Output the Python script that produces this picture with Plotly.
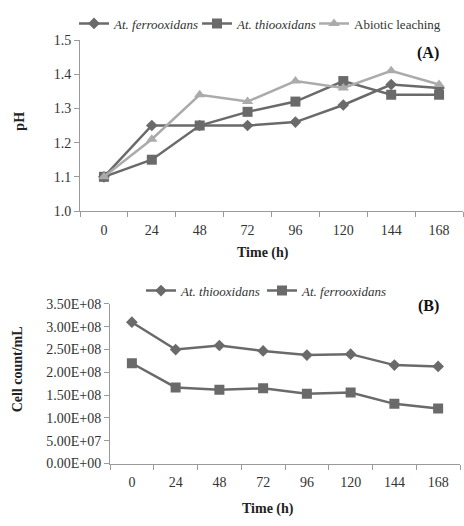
import plotly.graph_objects as go

time_labels = ["0", "24", "48", "72", "96", "120", "144", "168"]

# Panel A: pH
ph_ferro = [1.10, 1.25, 1.25, 1.25, 1.26, 1.31, 1.37, 1.36]
ph_thio = [1.10, 1.15, 1.25, 1.29, 1.32, 1.38, 1.34, 1.34]
ph_abiotic = [1.10, 1.21, 1.34, 1.32, 1.38, 1.36, 1.41, 1.37]
ph_ticks = [1.0, 1.1, 1.2, 1.3, 1.4, 1.5]
ph_ticktext = ["1.0", "1.1", "1.2", "1.3", "1.4", "1.5"]

# Panel B: Cell count/mL
cc_thio = [3.10e8, 2.50e8, 2.59e8, 2.47e8, 2.38e8, 2.40e8, 2.16e8, 2.13e8]
cc_ferro = [2.20e8, 1.67e8, 1.62e8, 1.65e8, 1.53e8, 1.56e8, 1.31e8, 1.21e8]
cc_ticks = [0, 5e7, 1e8, 1.5e8, 2e8, 2.5e8, 3e8, 3.5e8]
cc_ticktext = ["0.00E+00", "5.00E+07", "1.00E+08", "1.50E+08", "2.00E+08",
               "2.50E+08", "3.00E+08", "3.50E+08"]

DARK = "#6a6a6a"
LIGHT = "#ababab"
AXIS = "#9a9a9a"
FONT = "Liberation Serif"
W, H = 464, 526

def px(x):
    return x / W

def py(y):
    return 1 - y / H

fig = go.Figure()

def add(x, y, name, color, symbol, size, xa, ya, leg):
    fig.add_trace(go.Scatter(x=x, y=y, name=name, mode="lines+markers",
                             line=dict(color=color, width=2.5),
                             marker=dict(symbol=symbol, size=size, color=color),
                             xaxis=xa, yaxis=ya, legend=leg, showlegend=True))

add(time_labels, ph_ferro, "<i>At. ferrooxidans</i>", DARK, "diamond", 9, "x", "y", "legend")
add(time_labels, ph_thio, "<i>At. thiooxidans</i>", DARK, "square", 10, "x", "y", "legend2")
add(time_labels, ph_abiotic, "Abiotic leaching", LIGHT, "triangle-up", 10, "x", "y", "legend3")
add(time_labels, cc_thio, "<i>At. thiooxidans</i>", DARK, "diamond", 9, "x2", "y2", "legend4")
add(time_labels, cc_ferro, "<i>At. ferrooxidans</i>", DARK, "square", 10, "x2", "y2", "legend5")

xcommon = dict(type="category", tickson="boundaries", ticks="outside", ticklen=5,
               tickcolor=AXIS, showline=True, linecolor=AXIS, linewidth=1,
               showgrid=False, zeroline=False, range=[-0.5, 7.5], ticklabelstandoff=6,
               tickfont=dict(family=FONT, size=14, color="#333"))
ycommon = dict(ticks="outside", ticklen=5, tickcolor=AXIS, showline=True,
               linecolor=AXIS, linewidth=1, showgrid=False, zeroline=False,
               tickfont=dict(family=FONT, size=14, color="#333"))

def leg(xp, yp):
    return dict(orientation="h", x=px(xp), y=py(yp), xanchor="left", yanchor="middle",
                font=dict(family=FONT, size=13, color="#333"), itemwidth=30,
                bgcolor="rgba(0,0,0,0)", visible=True)

fig.update_layout(
    width=W, height=H, margin=dict(l=0, r=0, t=0, b=0),
    paper_bgcolor="white", plot_bgcolor="white", showlegend=True,
    font=dict(family=FONT, color="#333"),
    xaxis=dict(domain=[px(80), px(463)], anchor="y", **xcommon),
    yaxis=dict(domain=[py(210), py(34)], anchor="x", range=[1.0, 1.5],
               tickvals=ph_ticks, ticktext=ph_ticktext, **ycommon),
    xaxis2=dict(domain=[px(110), px(460)], anchor="y2", **xcommon),
    yaxis2=dict(domain=[py(470), py(305.7)], anchor="x2", range=[0, 3.5e8],
                tickvals=cc_ticks, ticktext=cc_ticktext, **ycommon),
    legend=leg(74, 17),
    legend2=leg(197, 17),
    legend3=leg(314, 17),
    legend4=leg(141, 292),
    legend5=leg(262, 292),
    annotations=[
        dict(text="<b>(A)</b>", x=px(441), y=py(47), xref="paper", yref="paper",
             xanchor="right", yanchor="middle", showarrow=False,
             font=dict(family=FONT, size=16, color="#111")),
        dict(text="<b>(B)</b>", x=px(441), y=py(308), xref="paper", yref="paper",
             xanchor="right", yanchor="middle", showarrow=False,
             font=dict(family=FONT, size=16, color="#111")),
        dict(text="<b>pH</b>", x=px(20), y=py(118), xref="paper", yref="paper",
             textangle=-90, showarrow=False, xanchor="center", yanchor="middle",
             font=dict(family=FONT, size=14, color="#222")),
        dict(text="<b>Time (h)</b>", x=px(263), y=py(253), xref="paper", yref="paper",
             showarrow=False, xanchor="center", yanchor="middle",
             font=dict(family=FONT, size=14, color="#222")),
        dict(text="<b>Cell count/mL</b>", x=px(17), y=py(373), xref="paper", yref="paper",
             textangle=-90, showarrow=False, xanchor="center", yanchor="middle",
             font=dict(family=FONT, size=14, color="#222")),
        dict(text="<b>Time (h)</b>", x=px(268), y=py(517), xref="paper", yref="paper",
             showarrow=False, xanchor="center", yanchor="middle",
             font=dict(family=FONT, size=14, color="#222")),
    ],
)

fig.write_html("out.html")
